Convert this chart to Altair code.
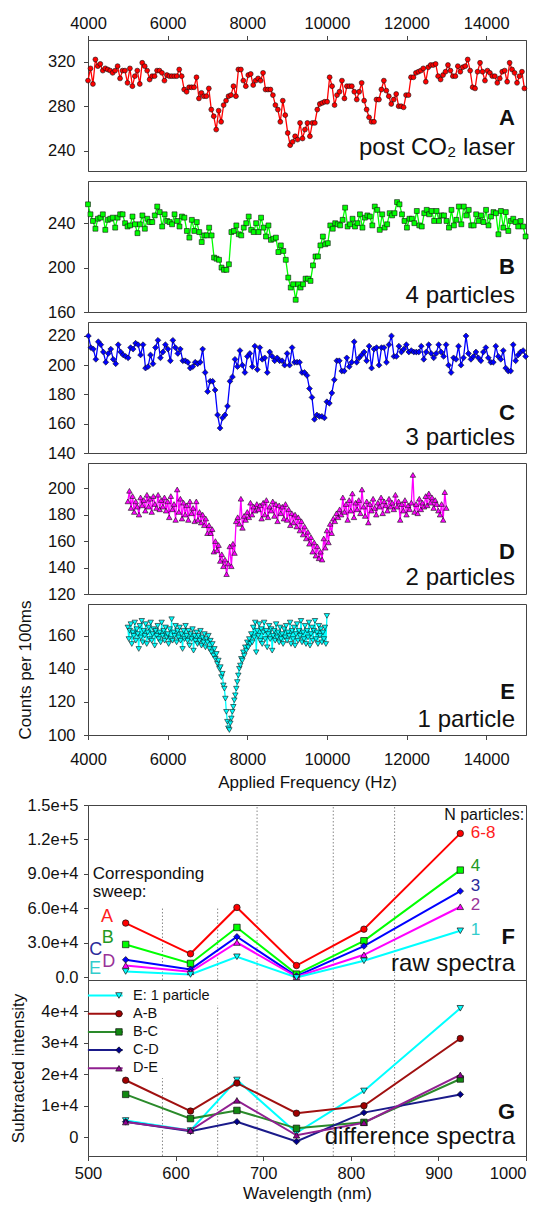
import altair as alt
import numpy as np
import pandas as pd

# ---------------- frequency sweeps (counts per 100 ms) ----------------
A_range = (4000, 14960)
A_counts = [303,314,300,322,316,318,312,314,313,312,310,312,316,305,312,312,301,314,298,307,
            312,300,319,316,312,304,307,307,312,312,310,303,308,307,307,307,307,313,307,295,
            293,297,297,297,306,287,292,289,289,296,277,271,259,276,266,281,285,289,290,298,
            289,313,313,303,298,308,309,299,303,305,303,310,295,295,295,290,281,277,266,285,
            272,256,245,248,253,250,265,251,259,265,253,265,265,277,282,283,284,284,306,298,
            281,290,293,303,287,298,298,298,293,286,293,301,285,277,270,266,266,286,286,295,
            303,294,289,282,286,291,280,280,279,290,290,306,306,310,311,312,314,302,315,317,
            317,318,307,304,308,311,317,312,307,307,316,311,315,316,322,312,297,296,311,319,
            311,303,312,310,307,307,301,305,311,312,302,319,313,310,301,307,311,296]

B_range = (4000, 14990)
B_counts = [257,248,242,235,244,245,248,234,243,244,245,236,245,248,248,240,237,238,246,239,
            231,239,247,235,244,241,241,247,255,250,237,248,242,241,239,248,242,237,246,245,
            233,227,243,233,241,232,223,229,229,236,229,209,208,207,200,198,198,203,232,233,
            238,230,229,236,240,246,234,232,240,232,245,236,228,238,225,226,227,214,220,215,
            207,191,182,185,171,185,182,185,190,190,188,202,210,210,220,228,221,222,238,235,
            240,239,238,243,254,237,239,244,237,240,248,236,245,247,246,238,255,252,234,248,
            236,239,249,247,249,259,257,248,242,236,244,244,240,251,238,237,249,252,248,251,
            242,251,242,247,247,242,236,252,238,243,255,239,255,247,252,238,238,248,242,247,
            241,252,238,246,250,249,230,251,236,250,233,242,244,241,237,242,237,228]

C_range = (4010, 14990)
C_counts = [220,212,211,204,216,214,209,202,208,211,204,201,214,209,207,206,205,212,211,215,
            214,207,214,198,199,207,201,212,217,205,209,214,211,203,217,212,208,211,203,203,
            202,198,199,202,201,202,211,195,182,189,189,183,166,157,164,166,172,189,192,204,
            199,210,200,195,206,208,199,213,197,212,204,205,195,209,206,203,205,203,203,200,
            208,200,212,202,202,202,195,195,193,184,178,163,166,165,165,164,175,174,181,190,
            203,203,196,196,205,199,202,216,202,205,207,209,203,213,198,211,212,200,212,212,
            202,214,220,206,206,213,209,211,214,209,210,209,209,209,213,204,209,214,208,205,
            208,214,209,206,214,200,195,205,204,213,200,205,220,208,204,206,209,205,203,209,
            212,205,202,202,213,206,204,210,198,196,196,214,203,207,209,210,206]

D_range = (5000, 13000)
D_counts = [190,198,185,194,182,190,186,180,193,187,191,183,195,186,192,182,194,188,185,195,
            184,191,186,193,183,190,178,194,184,188,176,199,182,192,177,189,180,187,176,190,
            181,185,175,190,176,182,174,180,172,177,166,172,166,169,152,160,153,157,145,150,
            141,146,135,143,156,141,158,151,175,178,173,192,170,179,176,182,178,189,180,186,
            183,188,184,187,177,189,180,191,178,186,183,190,179,188,175,187,181,186,177,188,
            176,184,172,181,174,180,171,178,168,175,165,171,162,167,158,163,152,159,149,156,
            147,152,146,162,155,168,159,173,166,177,175,181,178,184,180,193,182,188,176,191,
            183,196,178,189,184,191,181,199,186,179,190,174,188,183,192,185,180,189,186,193,
            181,190,187,183,192,186,189,184,195,186,190,176,188,183,191,180,187,184,189,210,
            182,188,181,192,184,189,186,194,187,196,189,193,185,191,188,183,180,188,176,197,
            185]

E_range = (5000, 10000)
E_counts = [165,158,163,167,155,162,160,168,157,164,161,152,166,159,169,156,163,160,167,155,
            162,165,158,168,157,161,164,154,163,160,166,158,162,156,168,160,163,157,165,159,
            161,155,164,158,170,157,162,160,166,156,163,159,165,157,161,152,163,158,166,160,
            157,163,154,161,158,164,151,160,157,162,155,160,157,163,154,159,156,161,153,158,
            156,160,152,157,150,155,148,152,146,149,143,145,140,141,135,137,130,128,122,114,
            108,104,103,107,110,114,117,121,124,128,132,136,140,142,146,145,150,148,153,151,
            156,153,158,155,161,156,165,159,168,150,163,160,167,157,164,155,162,168,158,163,
            153,161,166,158,164,151,160,163,157,167,159,162,156,165,158,161,155,164,159,166,
            157,162,160,168,155,163,158,165,154,161,167,157,163,160,169,156,162,158,166,155,
            163,159,168,154,161,165,157,163,169,158,162,155,166,160,164,156,162,158,165,155,
            172]

# ---------------- spectra (F raw, G difference) ----------------
wavelength = [543, 617, 670, 738, 815, 925]
F_sweeps = ["A", "B", "C", "D", "E"]
F_A = [47300, 20600, 60900, 10400, 42000, 125300]
F_B = [28700, 12200, 43500, 2900, 31900, 93400]
F_C = [15400, 7000, 35400, 1200, 27300, 75100]
F_D = [10400, 4900, 30400, 600, 19700, 61500]
F_E = [5200, 2600, 18000, 0, 14500, 40600]

G_names = ["E: 1 particle", "A-B", "B-C", "C-D", "D-E"]
G_E1 = [5300, 2100, 18200, 1400, 14700, 41000]
G_AB = [18100, 8300, 17200, 7600, 10000, 31400]
G_BC = [13600, 5900, 8500, 2800, 4700, 18500]
G_CD = [4900, 1900, 4900, -1400, 7800, 13600]
G_DE = [4800, 2100, 11700, 600, 4600, 19800]

# filter band edges (dotted guides)
guide_w = [585, 648, 693, 780, 850]
F_guide_top = [61000, 61000, 150000, 150000, 150000]
G_guide_top = [18800, 42000, 50000, 50000, 50000]

# annotation anchors (data coordinates) in panel F
F_left_w = [521.7, 522.5, 508.8, 523.6, 508.0]
F_left_v = [52400, 34200, 23500, 13300, 7600]
F_right_labels = ["6-8", "4", "3", "2", "1"]
F_right_w = 937
F_right_v = [125800, 96800, 79400, 62600, 41700]
F_head_text = ["Corresponding", "sweep:"]
F_head_v = [90200, 74200]

# ---------------- styling ----------------
FONT = "Liberation Sans"
W = 438
H = 131
INK = "#111111"
freq_ticks = [4000, 6000, 8000, 10000, 12000, 14000]
XF = alt.Scale(domain=[4000, 15000], nice=False, zero=False)


def sweep(rng, counts, color, shape, size, ydom, yticks, letter, desc, ly, dy,
          xaxis, ytitle=None, ytitle_x=None):
    df = pd.DataFrame({"f": np.linspace(rng[0], rng[1], len(counts)), "c": counts})
    ya = dict(values=yticks, title=ytitle, labelPadding=8.5)
    if ytitle:
        ya["titleX"] = ytitle_x
    x = alt.X("f:Q", scale=XF, axis=xaxis)
    y = alt.Y("c:Q", scale=alt.Scale(domain=ydom, nice=False, zero=False),
              axis=alt.Axis(**ya))
    base = alt.Chart(df)
    line = base.mark_line(color=color, strokeWidth=1.3).encode(x=x, y=y)
    pts = base.mark_point(shape=shape, filled=True, fill=color, stroke=INK,
                          strokeWidth=0.6, size=size, opacity=1).encode(x=x, y=y)
    lab = alt.Chart(pd.DataFrame({"t": [letter], "d": [desc]}))
    t1 = lab.mark_text(align="right", baseline="middle", font=FONT, fontSize=22,
                       fontWeight="bold", color=INK).encode(
        x=alt.value(W - 11), y=alt.value(ly), text="t:N")
    t2 = lab.mark_text(align="right", baseline="middle", font=FONT, fontSize=24,
                       color=INK).encode(
        x=alt.value(W - 11), y=alt.value(dy), text="d:N")
    return alt.layer(line, pts, t1, t2).properties(width=W, height=H)


ax_top = alt.Axis(orient="top", values=freq_ticks, format="d", title=None, labelPadding=4)
ax_bot = alt.Axis(orient="bottom", values=freq_ticks, format="d",
                  title="Applied Frequency (Hz)", labelPadding=12, titlePadding=6.5)

pA = sweep(A_range, A_counts, "#FF0000", "circle", 24, [221.8, 339.5], [240, 280, 320],
           "A", "post CO\u2082 laser", 78, 108, ax_top)
pB = sweep(B_range, B_counts, "#00FF00", "square", 24, [160, 278], [160, 200, 240],
           "B", "4 particles", 85.7, 115, None)
pC = sweep(C_range, C_counts, "#0000FF", "diamond", 34, [140, 229.5], [140, 160, 180, 200, 220],
           "C", "3 particles", 91, 116, None)
pD = sweep(D_range, D_counts, "#FF00FF", "triangle-up", 30, [120, 219], [120, 140, 160, 180, 200],
           "D", "2 particles", 88.7, 115, None)
pE = sweep(E_range, E_counts, "#00FFFF", "triangle-down", 30, [100, 179.2], [100, 120, 140, 160],
           "E", "1 particle", 87.7, 116, ax_bot, "Counts per 100ms", -53.5)

# ---------------- panel F ----------------
XW = alt.Scale(domain=[500, 1000], nice=False, zero=False)
yF_axis = alt.Axis(values=[0, 30000, 60000, 90000, 120000, 150000], title=None,
                   labelExpr="datum.value == 0 ? '0.0' : format(datum.value, '.1e')",
                   labelPadding=5.5)
yF_scale = alt.Scale(domain=[-2200, 150000], nice=False, zero=False)
xF = alt.X("w:Q", scale=XW, axis=None)
yF = alt.Y("v:Q", scale=yF_scale, axis=yF_axis)

f_guides = pd.DataFrame({"w": guide_w, "v": [-2200] * 5, "hi": F_guide_top})
f_rule = alt.Chart(f_guides).mark_rule(color="#888888", strokeDash=[1.5, 2], strokeWidth=1).encode(
    x=xF, y=yF, y2="hi:Q")

f_specs = [(F_A, "#FF0000", "circle"), (F_B, "#00FF00", "square"), (F_C, "#0000FF", "diamond"),
           (F_D, "#FF00FF", "triangle-up"), (F_E, "#00FFFF", "triangle-down")]
f_lines, f_pts = [], []
for vals, col, shp in f_specs:
    d = alt.Chart(pd.DataFrame({"w": wavelength, "v": vals}))
    f_lines.append(d.mark_line(color=col, strokeWidth=2).encode(x=xF, y=yF))
    f_pts.append(d.mark_point(shape=shp, filled=True, fill=col, stroke=INK, strokeWidth=0.7,
                              size=42, opacity=1).encode(x=xF, y=yF))

lab_colors = ["#FF2020", "#229922", "#2A2A9A", "#993399", "#33CCCC"]
f_left = alt.Chart(pd.DataFrame({"w": F_left_w, "v": F_left_v, "t": F_sweeps, "c": lab_colors})).mark_text(
    align="center", baseline="middle", font=FONT, fontSize=18).encode(
    x=xF, y=yF, text="t:N", color=alt.Color("c:N", scale=None))
f_right = alt.Chart(pd.DataFrame({"w": [F_right_w] * 5, "v": F_right_v, "t": F_right_labels,
                                  "c": lab_colors})).mark_text(
    align="left", baseline="middle", font=FONT, fontSize=17).encode(
    x=xF, y=yF, text="t:N", color=alt.Color("c:N", scale=None))
f_np = alt.Chart(pd.DataFrame({"w": [998], "v": [141300], "t": ["N particles:"]})).mark_text(
    align="right", baseline="middle", font=FONT, fontSize=16, color=INK).encode(x=xF, y=yF, text="t:N")
f_head = alt.Chart(pd.DataFrame({"w": [505.4, 505.4], "v": F_head_v, "t": F_head_text})).mark_text(
    align="left", baseline="middle", font=FONT, fontSize=17, color=INK).encode(x=xF, y=yF, text="t:N")
f_lab = alt.Chart(pd.DataFrame({"t": ["F"], "d": ["raw spectra"]}))
f_t1 = f_lab.mark_text(align="right", baseline="middle", font=FONT, fontSize=22, fontWeight="bold",
                       color=INK).encode(x=alt.value(W - 11), y=alt.value(132.2), text="t:N")
f_t2 = f_lab.mark_text(align="right", baseline="middle", font=FONT, fontSize=24,
                       color=INK).encode(x=alt.value(W - 11), y=alt.value(158.8), text="d:N")

pF = alt.layer(f_rule, *f_lines, *f_pts, f_left, f_right, f_np, f_head, f_t1, f_t2).properties(
    width=W, height=175)

# ---------------- panel G ----------------
g_rows = []
for name, vals in zip(G_names, [G_E1, G_AB, G_BC, G_CD, G_DE]):
    for w, v in zip(wavelength, vals):
        g_rows.append({"w": w, "v": v, "series": name, "series_pt": name})
g_df = pd.DataFrame(g_rows)

xG = alt.X("w:Q", scale=XW, axis=alt.Axis(
    values=[500, 600, 700, 800, 900, 1000], format="d", title="Wavelength (nm)",
    labelPadding=5, titlePadding=3,
    labelAlign={"condition": {"test": "datum.value >= 1000", "value": "right"}, "value": "center"}))
yG = alt.Y("v:Q", scale=alt.Scale(domain=[-6000, 50000], nice=False, zero=False),
           axis=alt.Axis(values=[0, 10000, 20000, 30000, 40000], title="Subtracted intensity",
                         titleX=-61, labelPadding=5.5,
                         labelExpr="datum.value == 0 ? '0' : format(datum.value, '.0e')"))

g_guides = pd.DataFrame({"w": guide_w, "v": [-6000] * 5, "hi": G_guide_top})
g_rule = alt.Chart(g_guides).mark_rule(color="#888888", strokeDash=[1.5, 2], strokeWidth=1).encode(
    x=xG, y=yG, y2="hi:Q")

G_line_colors = ["#00FFFF", "#A01010", "#2A8A2A", "#1A1A8A", "#902090"]
G_fill_colors = ["#00FFFF", "#A00000", "#118811", "#00008B", "#900090"]
G_shapes = ["triangle-down", "circle", "square", "diamond", "triangle-up"]

# legend symbol fill follows the same name -> colour pairing as the point fill scale
fill_expr = "".join(f"datum.value === '{n}' ? '{c}' : " for n, c in zip(G_names, G_fill_colors)) + "'#888888'"

leg_lines = alt.Legend(title=None, orient="none", legendX=10, legendY=8.25,
                       symbolType="M-4.96,0L4.96,0", symbolSize=49, symbolStrokeWidth=2,
                       labelFont=FONT, labelFontSize=14.5, labelColor=INK, labelOffset=20.5,
                       rowPadding=3.2, padding=0)
leg_marks = alt.Legend(title=None, orient="none", legendX=23.7, legendY=8.25, symbolSize=42,
                       symbolFillColor={"expr": fill_expr}, symbolOpacity=1,
                       symbolStrokeColor=INK, symbolStrokeWidth=0.7, labelFont=FONT,
                       labelFontSize=14.5, labelColor="transparent", labelOffset=6.6,
                       rowPadding=3.2, padding=0)

g_line = alt.Chart(g_df).mark_line(strokeWidth=2).encode(
    x=xG, y=yG,
    stroke=alt.Stroke("series:N", sort=G_names, scale=alt.Scale(range=G_line_colors), legend=leg_lines))
g_pts = alt.Chart(g_df).mark_point(filled=True, size=42, stroke=INK, strokeWidth=0.7, opacity=1).encode(
    x=xG, y=yG,
    fill=alt.Fill("series_pt:N", sort=G_names, scale=alt.Scale(range=G_fill_colors), legend=None),
    shape=alt.Shape("series_pt:N", sort=G_names, scale=alt.Scale(range=G_shapes), legend=leg_marks))
g_lab = alt.Chart(pd.DataFrame({"t": ["G"], "d": ["difference spectra"]}))
g_t1 = g_lab.mark_text(align="right", baseline="middle", font=FONT, fontSize=22, fontWeight="bold",
                       color=INK).encode(x=alt.value(W - 11), y=alt.value(132.2), text="t:N")
g_t2 = g_lab.mark_text(align="right", baseline="middle", font=FONT, fontSize=24,
                       color=INK).encode(x=alt.value(W - 11), y=alt.value(157.2), text="d:N")

pG = alt.layer(g_rule, g_line, g_pts, g_t1, g_t2).properties(width=W, height=176)

upper = alt.vconcat(pA, pB, pC, pD, pE, spacing=10, bounds="flush")
lower = alt.vconcat(pF, pG, spacing=0, bounds="flush").resolve_scale(
    stroke="independent", fill="independent", shape="independent")

chart = alt.vconcat(upper, lower, spacing=5).resolve_scale(
    stroke="independent", fill="independent", shape="independent"
).properties(
    padding={"left": 0, "top": 7, "right": 0, "bottom": 0}
).configure(font=FONT).configure_view(stroke="#444444", strokeWidth=1).configure_axis(
    labelFont=FONT, labelFontSize=16.5, labelColor=INK, titleFont=FONT, titleFontSize=17,
    titleFontWeight="normal", titleColor=INK, tickColor="#444444", domainColor="#444444",
    tickSize=4.5, grid=False, labelFlush=False)

chart.save("out.html", embed_options={"renderer": "svg", "actions": False})
